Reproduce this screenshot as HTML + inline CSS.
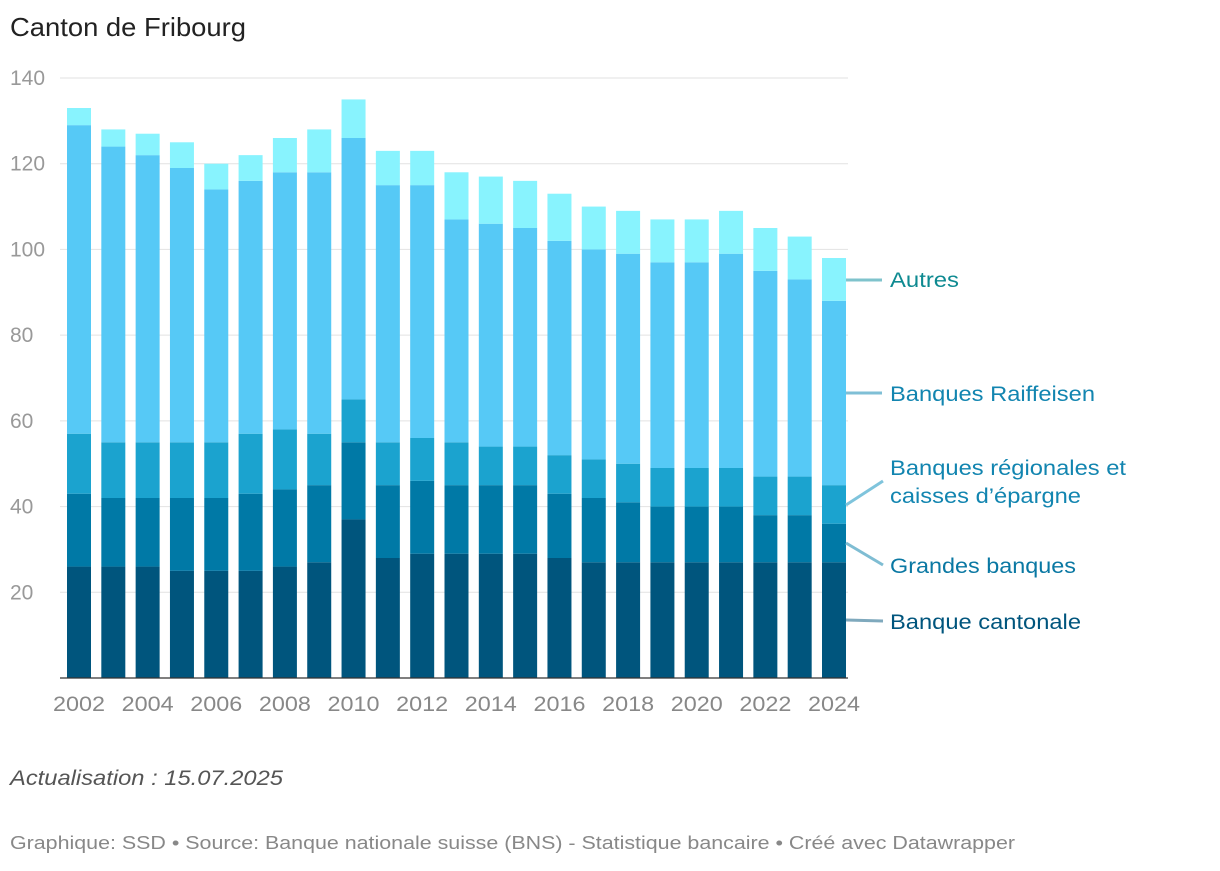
<!DOCTYPE html>
<html><head><meta charset="utf-8"><style>
body{margin:0;background:#fff;width:1220px;height:866px;overflow:hidden;font-family:"Liberation Sans",sans-serif}
svg text{font-family:"Liberation Sans",sans-serif}
</style></head><body>
<svg id="chart" width="1220" height="866">
<text x="10" y="36" font-size="26" fill="#222" textLength="236" lengthAdjust="spacingAndGlyphs">Canton de Fribourg</text>
<g id="grid"></g><g id="bars"></g><g id="xlab"></g>
<line x1="60" x2="848" y1="678" y2="678" stroke="#333" stroke-width="1.2"/>
<g font-size="21">
<line x1="846" y1="280" x2="882" y2="280" stroke="#7fc3cc" stroke-width="3"/>
<text x="890" y="287" fill="#0e8a91" textLength="69" lengthAdjust="spacingAndGlyphs">Autres</text>
<line x1="846" y1="393" x2="882" y2="393" stroke="#7fbfd6" stroke-width="3"/>
<text x="890" y="401" fill="#1285b0" textLength="205" lengthAdjust="spacingAndGlyphs">Banques Raiffeisen</text>
<line x1="846" y1="505" x2="883" y2="481" stroke="#7fc4dc" stroke-width="3"/>
<text x="890" y="475" fill="#1285b0" textLength="236" lengthAdjust="spacingAndGlyphs">Banques régionales et</text>
<text x="890" y="503" fill="#1285b0" textLength="191" lengthAdjust="spacingAndGlyphs">caisses d’épargne</text>
<line x1="846" y1="543" x2="883" y2="565" stroke="#7fbdd3" stroke-width="3"/>
<text x="890" y="573" fill="#0a78a3" textLength="186" lengthAdjust="spacingAndGlyphs">Grandes banques</text>
<line x1="846" y1="620" x2="883" y2="621" stroke="#7fa9bd" stroke-width="3"/>
<text x="890" y="629" fill="#00557d" textLength="191" lengthAdjust="spacingAndGlyphs">Banque cantonale</text>
</g>
<text x="10" y="785" font-size="21" font-style="italic" fill="#555" textLength="273" lengthAdjust="spacingAndGlyphs">Actualisation : 15.07.2025</text>
<text x="10" y="849" font-size="18" fill="#888" textLength="1005" lengthAdjust="spacingAndGlyphs">Graphique: SSD • Source: Banque nationale suisse (BNS) - Statistique bancaire • Créé avec Datawrapper</text>
</svg>
<script>
const years=[2002,2003,2004,2005,2006,2007,2008,2009,2010,2011,2012,2013,2014,2015,2016,2017,2018,2019,2020,2021,2022,2023,2024];
const cantonale=[26,26,26,25,25,25,26,27,37,28,29,29,29,29,28,27,27,27,27,27,27,27,27];
const grandes=[17,16,16,17,17,18,18,18,18,17,17,16,16,16,15,15,14,13,13,13,11,11,9];
const regionales=[14,13,13,13,13,14,14,12,10,10,10,10,9,9,9,9,9,9,9,9,9,9,9];
const raiffeisen=[72,69,67,64,59,59,60,61,61,60,59,52,52,51,50,49,49,48,48,50,48,46,43];
const autres=[4,4,5,6,6,6,8,10,9,8,8,11,11,11,11,10,10,10,10,10,10,10,10];
const yTicks=[20,40,60,80,100,120,140];
const series=[cantonale,grandes,regionales,raiffeisen,autres];
const names=['cantonale','grandes','regionales','raiffeisen','autres'];
const colors=['#00557d','#0079a6','#1ba3cf','#56c9f6','#88f3fe'];
const NS='http://www.w3.org/2000/svg';
const y=v=>678-v*600/140;
const x=i=>79+i*(834-79)/22;
const bw=24;
function mk(t,a,p){const e=document.createElementNS(NS,t);for(const k in a)e.setAttribute(k,a[k]);p.appendChild(e);return e;}
const grid=document.getElementById('grid');
yTicks.forEach(t=>{
 const l=mk('line',{x1:60,x2:848,y1:y(t),y2:y(t),stroke:'#e2e2e2','stroke-width':1},grid);
 
 
 const tx=mk('text',{x:10,y:y(t)+7,'font-size':21,fill:'#999'},grid);
 tx.textContent=t;
 
 
});
const bars=document.getElementById('bars');
years.forEach((yr,i)=>{
 let c=0;
 series.forEach((s,k)=>{
  const r=mk('rect',{x:x(i)-bw/2,y:y(c+s[i]),width:bw,height:y(c)-y(c+s[i]),fill:colors[k]},bars);
  
  
  c+=s[i];
 });
});
const xl=document.getElementById('xlab');
years.forEach((yr,i)=>{
 if(yr%2)return;
 const t=mk('text',{x:x(i),y:711,'font-size':21,fill:'#888','text-anchor':'middle',textLength:52,lengthAdjust:'spacingAndGlyphs'},xl);
 t.textContent=yr;
 
 
});
</script>
</body></html>
